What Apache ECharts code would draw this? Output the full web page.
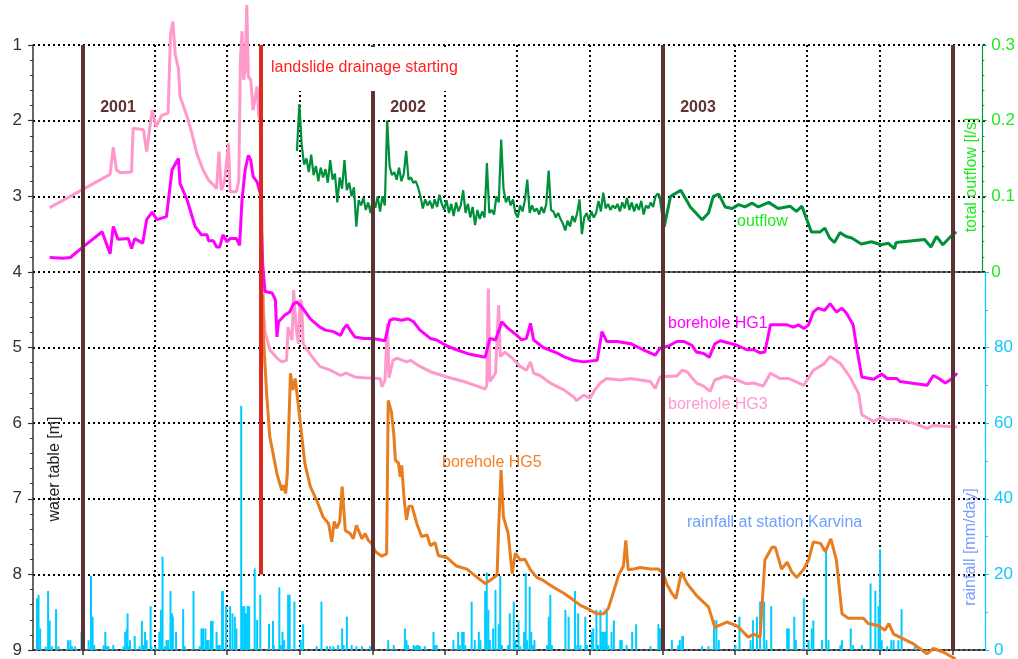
<!DOCTYPE html>
<html>
<head>
<meta charset="utf-8">
<script src="https://cdn.jsdelivr.net/npm/echarts@6/dist/echarts.min.js"></script>
<style>
  html, body { margin: 0; padding: 0; background: #fff; }
  #chart { width: 1018px; height: 659px; }
</style>
</head>
<body>
<div id="chart"></div>
<script>
// Time is counted in days from 1 January 2001.
const DAY_MIN = -63;
const DAY_MAX = 1135;
const OUTFLOW_DAY_MIN = 264;

const yearStartDays = [0, 365, 730, 1095];
const yearLabels = ['2001', '2002', '2003', ''];
const quarterDays = [90, 181, 273, 455, 546, 638, 820, 911, 1003];
const drainageDay = 224;
const drainageDepthRange = [1, 8];

const depthTicks = [1, 2, 3, 4, 5, 6, 7, 8, 9];
const outflowTicks = [0, 0.1, 0.2, 0.3];
const rainfallTicks = [0, 20, 40, 60, 80];

// borehole HG1 water table [m]
const hg1 = [
  [-42,3.81],[-25,3.82],[-16,3.81],[0,3.67],[24,3.47],[34,3.76],[38,3.40],[44,3.57],[57,3.56],[61,3.69],
  [65,3.56],[75,3.62],[80,3.31],[87,3.21],[93,3.31],[105,3.27],[112,2.65],[120,2.50],[122,2.83],[131,3.05],
  [141,3.40],[149,3.51],[156,3.51],[158,3.59],[164,3.59],[168,3.67],[172,3.67],[176,3.51],[181,3.60],[185,3.56],
  [193,3.56],[197,3.65],[200,3.05],[204,2.65],[208,2.46],[211,2.52],[214,2.74],[219,2.81],[223,2.96],[226,3.90],
  [229,4.26],[231,4.26],[238,4.28],[242,4.37],[244,4.86],[246,4.66],[248,4.64],[254,4.57],[260,4.53],[265,4.42],
  [269,4.40],[275,4.46],[286,4.62],[298,4.73],[305,4.77],[315,4.79],[324,4.84],[328,4.75],[332,4.70],[336,4.77],
  [342,4.86],[353,4.88],[365,4.88],[380,4.91],[383,4.77],[386,4.64],[391,4.62],[401,4.64],[409,4.62],[416,4.66],
  [424,4.77],[437,4.88],[445,4.90],[458,4.98],[470,5.03],[487,5.09],[506,5.13],[512,4.88],[519,4.90],[527,4.66],
  [533,4.73],[546,4.84],[552,4.90],[558,4.88],[563,4.68],[567,4.90],[579,5.00],[596,5.07],[605,5.12],[617,5.17],
  [630,5.19],[647,5.17],[653,4.79],[659,4.92],[672,4.92],[689,4.95],[705,5.03],[720,5.10],[726,5.01],[737,4.98],
  [747,4.92],[756,4.92],[766,4.97],[772,5.06],[781,5.08],[788,5.13],[795,4.95],[802,4.91],[823,4.97],[835,5.03],
  [844,5.03],[852,5.07],[858,5.06],[865,4.70],[886,4.70],[894,4.73],[900,4.70],[907,4.75],[913,4.70],[919,4.53],
  [925,4.48],[933,4.51],[940,4.42],[948,4.53],[955,4.48],[961,4.55],[969,4.70],[974,5.03],[980,5.39],[995,5.42],
  [1005,5.35],[1012,5.41],[1024,5.41],[1028,5.45],[1062,5.50],[1070,5.37],[1077,5.41],[1085,5.47],[1091,5.43],[1100,5.34]
];

// borehole HG3 water table [m]
const hg3 = [
  [-42,3.15],[34,2.71],[38,2.35],[42,2.65],[47,2.69],[61,2.68],[63,2.10],[76,2.12],[80,2.41],[87,1.86],
  [92,2.08],[99,1.93],[107,1.90],[110,0.87],[113,0.69],[116,1.13],[120,1.31],[122,1.68],[131,1.95],[137,2.17],
  [143,2.43],[151,2.65],[158,2.79],[164,2.85],[168,2.90],[171,2.41],[174,2.92],[178,2.81],[183,2.30],[185,2.94],
  [193,2.94],[196,2.79],[198,1.20],[200,0.82],[202,1.46],[204,1.33],[206,0.47],[208,1.42],[211,1.46],[214,1.86],
  [219,1.55],[221,1.93],[223,2.01],[227,4.50],[229,4.79],[235,5.03],[244,5.14],[250,5.19],[256,5.17],[258,4.73],
  [263,4.90],[265,4.24],[268,4.73],[271,4.95],[273,4.37],[275,4.40],[277,4.95],[288,5.12],[298,5.25],[311,5.30],
  [324,5.37],[331,5.34],[342,5.39],[353,5.40],[374,5.41],[376,5.52],[380,5.43],[383,4.68],[385,5.40],[390,5.17],
  [395,5.14],[407,5.19],[412,5.17],[424,5.25],[437,5.32],[458,5.39],[479,5.45],[496,5.51],[506,5.55],[508,5.50],
  [510,4.22],[512,5.45],[519,5.34],[523,4.44],[525,5.12],[531,5.06],[540,5.14],[550,5.25],[558,5.30],[563,5.19],
  [567,5.34],[575,5.37],[588,5.47],[605,5.56],[617,5.65],[621,5.70],[630,5.63],[638,5.67],[644,5.56],[651,5.47],
  [659,5.41],[676,5.43],[689,5.41],[714,5.45],[720,5.54],[726,5.39],[737,5.38],[747,5.38],[754,5.30],[760,5.32],
  [772,5.47],[781,5.51],[789,5.58],[795,5.43],[808,5.38],[823,5.43],[835,5.48],[844,5.47],[856,5.51],[865,5.34],
  [877,5.41],[888,5.41],[907,5.50],[919,5.30],[932,5.22],[940,5.12],[953,5.21],[965,5.39],[976,5.61],[980,5.89],
  [995,5.98],[1005,5.92],[1012,5.96],[1024,5.95],[1045,6.00],[1062,6.07],[1070,6.03],[1100,6.05]
];

// borehole HG5 water table [m]
const hg5 = [
  [226,4.30],[227,4.86],[231,5.61],[235,6.18],[244,6.67],[250,6.89],[252,6.82],[255,6.93],[257,6.67],[261,5.34],
  [264,5.56],[267,5.41],[273,5.96],[279,6.53],[286,6.84],[294,7.02],[302,7.24],[309,7.33],[313,7.57],[316,7.30],
  [319,7.39],[323,7.30],[326,6.84],[330,7.42],[336,7.46],[340,7.53],[344,7.35],[351,7.53],[355,7.46],[359,7.55],
  [363,7.59],[368,7.70],[376,7.76],[382,7.73],[384,5.70],[388,5.85],[391,6.14],[393,6.49],[397,6.53],[399,6.71],
  [401,6.56],[404,7.00],[407,7.28],[410,7.10],[414,7.10],[420,7.33],[426,7.50],[433,7.48],[437,7.62],[443,7.58],
  [447,7.75],[458,7.78],[470,7.89],[483,7.93],[496,8.04],[506,8.12],[512,8.08],[521,8.01],[523,7.38],[526,6.62],
  [529,7.24],[535,7.46],[540,7.99],[544,7.72],[550,7.81],[556,7.80],[563,7.94],[571,8.04],[579,8.08],[592,8.17],
  [605,8.25],[617,8.34],[626,8.41],[638,8.47],[646,8.52],[655,8.52],[661,8.45],[667,8.25],[674,8.01],[680,7.89],
  [683,7.55],[686,7.94],[693,7.93],[701,7.91],[714,7.93],[724,7.93],[730,7.99],[735,8.14],[741,8.25],[746,8.32],
  [753,7.97],[760,8.12],[772,8.28],[787,8.43],[795,8.70],[810,8.63],[823,8.68],[837,8.83],[844,8.79],[852,8.83],
  [858,7.81],[867,7.64],[871,7.64],[879,7.93],[886,7.84],[892,7.97],[898,8.04],[907,7.93],[913,7.81],[919,7.57],
  [928,7.59],[934,7.70],[941,7.53],[948,7.81],[955,8.52],[963,8.58],[982,8.58],[988,8.65],[1001,8.68],[1009,8.74],
  [1014,8.65],[1020,8.79],[1045,8.92],[1062,9.05],[1070,8.98],[1083,9.03],[1098,9.12]
];

// total outflow [l/s], readings every 3 days from day 269 to day 725
const outflowFirstDay = 269;
const outflowStepDays = 3;
const outflowDense = [
  .160,.222,.168,.142,.150,.132,.155,.128,.140,.120,
  .138,.125,.136,.118,.148,.122,.130,.092,.125,.110,
  .148,.108,.118,.100,.112,.060,.095,.088,.098,.082,
  .092,.078,.098,.085,.100,.080,.100,.088,.200,.140,
  .128,.132,.122,.138,.120,.130,.160,.122,.125,.118,
  .120,.112,.100,.084,.096,.088,.094,.084,.096,.086,
  .102,.090,.082,.095,.078,.090,.074,.092,.080,.088,
  .108,.078,.090,.072,.086,.062,.082,.070,.080,.072,
  .144,.078,.082,.076,.100,.092,.175,.110,.092,.100,
  .088,.096,.078,.072,.088,.080,.095,.122,.078,.088,
  .080,.084,.076,.086,.078,.090,.134,.082,.080,.072,
  .078,.070,.064,.055,.068,.060,.074,.066,.078,.096,
  .050,.072,.078,.068,.080,.072,.078,.094,.080,.105,
  .084,.090,.082,.088,.084,.090,.080,.092,.084,.098,
  .082,.092,.080,.090,.082,.094,.076,.088,.084,.092,
  .086,.100,.104
];

// total outflow [l/s], sparse readings from 2003 on
const outflowSparse = [
  [725,.104],[728,.097],[733,.060],[741,.100],[754,.108],[766,.086],[781,.069],[789,.078],[795,.100],[802,.103],
  [810,.086],[819,.084],[827,.089],[835,.086],[844,.091],[852,.086],[865,.092],[877,.084],[892,.087],[900,.080],
  [907,.087],[919,.053],[930,.053],[936,.058],[942,.045],[948,.039],[955,.052],[963,.047],[970,.045],[982,.037],
  [995,.040],[1007,.036],[1016,.038],[1024,.031],[1026,.039],[1062,.043],[1070,.033],[1077,.047],[1085,.036],[1095,.047],
  [1102,.053]
];

// daily rainfall at station Karvina [mm/day]
const rainfall = [
  [-58,13.7],[-56,14.6],[-54,5.7],[-47,0.9],[-44,15.6],[-42,7.8],[-39,1.0],[-34,10.8],[-31,1.0],[-19,2.6],
  [-16,2.6],[-14,1.0],[-10,1.0],[-2,4.8],[7,2.6],[10,19.6],[12,8.8],[14,1.3],[26,1.3],[28,4.8],
  [30,1.0],[32,1.0],[38,1.3],[51,1.0],[53,4.8],[55,5.7],[56,9.7],[57,1.0],[59,2.6],[65,3.7],
  [71,1.0],[74,7.7],[76,1.3],[78,4.8],[80,2.6],[85,11.6],[86,1.0],[91,1.0],[96,4.8],[98,10.6],
  [100,24.7],[103,1.0],[105,2.6],[107,2.6],[110,15.6],[112,9.7],[113,8.8],[117,4.8],[126,10.8],[128,1.0],
  [139,15.6],[147,1.0],[149,5.7],[151,5.7],[154,5.7],[156,2.6],[158,2.6],[161,7.7],[163,7.7],[168,4.8],
  [170,1.3],[172,1.3],[175,15.6],[176,15.6],[180,11.6],[185,11.6],[188,9.7],[191,8.8],[193,5.7],[199,64.6],
  [201,11.6],[203,11.6],[205,9.7],[207,11.6],[209,11.6],[216,21.6],[219,7.9],[223,14.6],[234,6.9],[239,7.7],
  [240,1.3],[247,16.6],[249,1.3],[251,4.8],[253,2.6],[258,14.6],[260,14.6],[266,12.8],[274,2.6],[277,6.8],
  [294,1.0],[300,12.8],[307,1.0],[311,1.0],[315,1.0],[321,1.3],[326,5.7],[328,1.3],[332,8.8],[338,1.3],
  [344,1.0],[351,1.0],[361,1.0],[365,1.0],[384,2.6],[391,1.3],[405,5.7],[407,2.6],[409,1.3],[416,1.3],
  [418,1.0],[420,1.3],[422,1.3],[424,1.0],[430,1.0],[441,4.8],[443,1.3],[445,1.3],[466,2.6],[472,4.8],
  [474,1.3],[477,4.8],[479,4.8],[481,1.3],[489,12.8],[493,2.6],[498,4.8],[500,2.6],[506,15.6],[508,20.5],
  [510,10.6],[512,2.6],[516,5.7],[519,15.9],[523,6.8],[525,19.6],[527,1.3],[535,1.3],[537,9.7],[542,12.8],
  [544,2.6],[548,7.8],[550,1.0],[555,4.8],[557,20.3],[559,2.6],[562,16.8],[564,4.8],[566,1.3],[568,2.6],
  [584,1.3],[586,8.8],[588,14.6],[590,1.3],[607,10.6],[611,8.8],[619,15.6],[622,1.3],[623,9.7],[626,1.3],
  [632,8.8],[634,1.3],[640,4.8],[642,5.7],[646,10.6],[648,1.3],[651,10.6],[653,4.8],[655,4.8],[657,4.8],
  [659,10.6],[661,1.3],[665,4.8],[668,7.8],[676,2.6],[678,2.6],[684,1.3],[691,4.8],[696,6.8],[714,1.0],
  [724,6.8],[726,5.7],[741,2.6],[749,1.3],[751,2.6],[754,3.7],[755,3.7],[779,1.0],[787,1.0],[794,7.9],
  [797,7.9],[800,2.6],[821,1.3],[826,8.8],[840,2.6],[843,7.9],[848,8.8],[852,12.8],[857,12.8],[860,2.6],
  [866,11.6],[886,5.7],[888,5.7],[895,8.8],[897,2.6],[907,13.7],[913,2.6],[917,5.7],[919,7.8],[930,2.6],
  [935,26.5],[938,2.6],[953,1.3],[955,2.6],[966,5.7],[969,1.3],[980,1.3],[991,17.6],[997,15.7],[1001,11.6],
  [1003,26.6],[1005,2.6],[1012,1.0],[1017,2.6],[1020,2.6],[1026,2.6],[1030,10.8],[1047,1.0]
];

const FONT = "'Liberation Sans', Arial, sans-serif";
const BROWN = '#5e3232';

const outflowDenseSeries = outflowDense.map((v, i) => [outflowFirstDay + i * outflowStepDays, v]);

function textEl(text, x, y, color, opts) {
  opts = opts || {};
  return {
    type: 'text', x: x, y: y, z: 20, silent: true,
    rotation: opts.rotation || 0,
    style: {
      text: text, fill: color,
      font: (opts.weight || 'normal') + ' ' + (opts.size || 16) + 'px ' + FONT,
      align: opts.align || 'left', verticalAlign: 'middle',
      textAlign: opts.align || 'left', textVerticalAlign: 'middle'
    }
  };
}

const chart = echarts.init(document.getElementById('chart'), null, { renderer: 'canvas' });

const option = {
  animation: false,
  backgroundColor: '#fff',
  grid: [
    { left: 33, right: 33, top: 45, bottom: 9 },
    { left: 293, right: 33, top: 45, height: 227 },
    { left: 33, right: 33, top: 272, bottom: 9 }
  ],
  xAxis: [
    { gridIndex: 0, type: 'value', min: DAY_MIN, max: DAY_MAX,
      axisLine: { show: true, onZero: false, lineStyle: { color: '#333', width: 1.5 } },
      axisTick: { show: false }, axisLabel: { show: false }, splitLine: { show: false } },
    { gridIndex: 1, type: 'value', min: OUTFLOW_DAY_MIN, max: DAY_MAX,
      axisLine: { show: true, onZero: false, lineStyle: { color: '#333', width: 1.5 } },
      axisTick: { show: false }, axisLabel: { show: false }, splitLine: { show: false } },
    { gridIndex: 2, type: 'value', min: DAY_MIN, max: DAY_MAX, show: false }
  ],
  yAxis: [
    { gridIndex: 0, type: 'value', inverse: true, min: depthTicks[0], max: depthTicks[depthTicks.length - 1], interval: 1,
      position: 'left',
      axisLine: { show: true, onZero: false, lineStyle: { color: '#333', width: 1.5 } },
      axisTick: { show: true, inside: false, length: 5, lineStyle: { color: '#333', width: 1.2 } },
      minorTick: { show: true, splitNumber: 5, length: 3, lineStyle: { color: '#333', width: 1 } },
      axisLabel: { color: '#333', fontSize: 17, fontFamily: FONT, margin: 11 },
      splitLine: { show: true, lineStyle: { color: '#000', width: 2, type: [2, 3] } } },
    { gridIndex: 1, type: 'value', min: outflowTicks[0], max: outflowTicks[outflowTicks.length - 1], interval: 0.1,
      position: 'right',
      axisLine: { show: true, onZero: false, lineStyle: { color: '#00993a', width: 1.2 } },
      axisTick: { show: true, inside: false, length: 4, lineStyle: { color: '#00993a' } },
      minorTick: { show: true, splitNumber: 5, length: 2, lineStyle: { color: '#00993a' } },
      axisLabel: { color: '#1ee81e', fontSize: 17, fontFamily: FONT, margin: 9 },
      splitLine: { show: false } },
    { gridIndex: 2, type: 'value', min: 0, max: 100, interval: 20,
      position: 'right',
      axisLine: { show: true, onZero: false, lineStyle: { color: '#00ccff', width: 1.2 } },
      axisTick: { show: true, inside: false, length: 4, lineStyle: { color: '#00ccff' } },
      minorTick: { show: true, splitNumber: 2, length: 3, lineStyle: { color: '#00ccff' } },
      axisLabel: { color: '#11c8ff', fontSize: 17, fontFamily: FONT, margin: 9,
        formatter: v => rainfallTicks.indexOf(v) >= 0 ? String(v) : '' },
      splitLine: { show: false } }
  ],
  graphic: [
    // plain backing for the drainage note
    { type: 'rect', z: 15, silent: true, shape: { x: 264, y: 47, width: 206, height: 44 }, style: { fill: '#fff' } },
    textEl('landslide drainage starting', 271, 68, '#ff1f1f'),
    textEl('outflow', 737, 222, '#1ee81e'),
    textEl('borehole HG1', 668, 324, '#ff00ff'),
    textEl('borehole HG3', 668, 405, '#ff99cc'),
    textEl('borehole HG5', 442, 463, '#f57f25'),
    textEl('rainfall at station Karvina', 687, 523, '#6f9fff'),
    textEl('water table [m]', 55, 469, '#222', { align: 'center', rotation: Math.PI / 2 }),
    textEl('total outflow [l/s]', 972, 175, '#1ee81e', { align: 'center', rotation: Math.PI / 2 }),
    textEl('rainfall [mm/day]', 971, 547, '#7a9cff', { align: 'center', rotation: Math.PI / 2 })
  ],
  series: [
    {
      name: 'rainfall', type: 'bar', xAxisIndex: 2, yAxisIndex: 2, z: 2,
      barWidth: 2, data: rainfall, itemStyle: { color: '#00ccff' }, silent: true
    },
    {
      name: 'quarters', type: 'custom', xAxisIndex: 0, yAxisIndex: 0, z: 1, silent: true,
      data: quarterDays.map(d => [d, 9]),
      encode: { x: 0, y: 1 },
      renderItem: function (params, api) {
        const d = api.value(0);
        const top = api.coord([d, 1]);
        const bot = api.coord([d, 9]);
        const x = Math.round(top[0]);
        return {
          type: 'group', children: [
            { type: 'line', shape: { x1: x, y1: top[1], x2: x, y2: bot[1] },
              style: { stroke: '#000', lineWidth: 2, lineDash: [2, 3] } },
            { type: 'line', shape: { x1: x, y1: bot[1], x2: x, y2: bot[1] + 5 },
              style: { stroke: '#333', lineWidth: 1.5 } }
          ]
        };
      }
    },
    {
      name: 'HG3', type: 'line', xAxisIndex: 0, yAxisIndex: 0, z: 3, clip: false,
      data: hg3, showSymbol: false, symbol: 'none', silent: true,
      lineStyle: { color: '#ff99cc', width: 3 }
    },
    {
      name: 'HG1', type: 'line', xAxisIndex: 0, yAxisIndex: 0, z: 4, clip: false,
      data: hg1, showSymbol: false, symbol: 'none', silent: true,
      lineStyle: { color: '#ff00ff', width: 3 }
    },
    {
      name: 'HG5', type: 'line', xAxisIndex: 0, yAxisIndex: 0, z: 4, clip: false,
      data: hg5, showSymbol: false, symbol: 'none', silent: true,
      lineStyle: { color: '#e87d1f', width: 3 }
    },
    {
      name: 'outflow', type: 'line', xAxisIndex: 1, yAxisIndex: 1, z: 4, clip: false,
      data: outflowDenseSeries, showSymbol: false, symbol: 'none', silent: true,
      lineStyle: { color: '#00903c', width: 2.2 }
    },
    {
      name: 'outflow 2003', type: 'line', xAxisIndex: 1, yAxisIndex: 1, z: 4, clip: false,
      data: outflowSparse, showSymbol: false, symbol: 'none', silent: true,
      lineStyle: { color: '#00903c', width: 3 }
    },
    {
      name: 'years', type: 'custom', xAxisIndex: 0, yAxisIndex: 0, z: 6, silent: true,
      data: yearStartDays.map(d => [d, 9]),
      encode: { x: 0, y: 1 },
      renderItem: function (params, api) {
        const d = api.value(0);
        const top = api.coord([d, 1]);
        const bot = api.coord([d, 9]);
        const x = Math.round(top[0]);
        const children = [
          { type: 'line', shape: { x1: x, y1: top[1], x2: x, y2: bot[1] },
            style: { stroke: BROWN, lineWidth: 4 } },
          { type: 'line', shape: { x1: x, y1: bot[1], x2: x, y2: bot[1] + 5 },
            style: { stroke: '#333', lineWidth: 1.5 } }
        ];
        const label = yearLabels[params.dataIndex];
        if (label) {
          children.push({
            type: 'text', x: x + 35, y: top[1] + 63,
            style: { text: label, fill: BROWN, font: 'bold 16px ' + FONT,
              align: 'center', verticalAlign: 'middle', textAlign: 'center', textVerticalAlign: 'middle' }
          });
        }
        return { type: 'group', children: children };
      }
    },
    {
      name: 'drainage', type: 'custom', xAxisIndex: 0, yAxisIndex: 0, z: 7, silent: true,
      data: [[drainageDay, drainageDepthRange[0], drainageDepthRange[1]]],
      encode: { x: 0, y: [1, 2] },
      renderItem: function (params, api) {
        const d = api.value(0);
        const top = api.coord([d, api.value(1)]);
        const bot = api.coord([d, api.value(2)]);
        const x = Math.round(top[0]);
        return { type: 'line', shape: { x1: x, y1: top[1], x2: x, y2: bot[1] },
          style: { stroke: '#dd2a1e', lineWidth: 4 } };
      }
    }
  ]
};

chart.setOption(option);
</script>
</body>
</html>
